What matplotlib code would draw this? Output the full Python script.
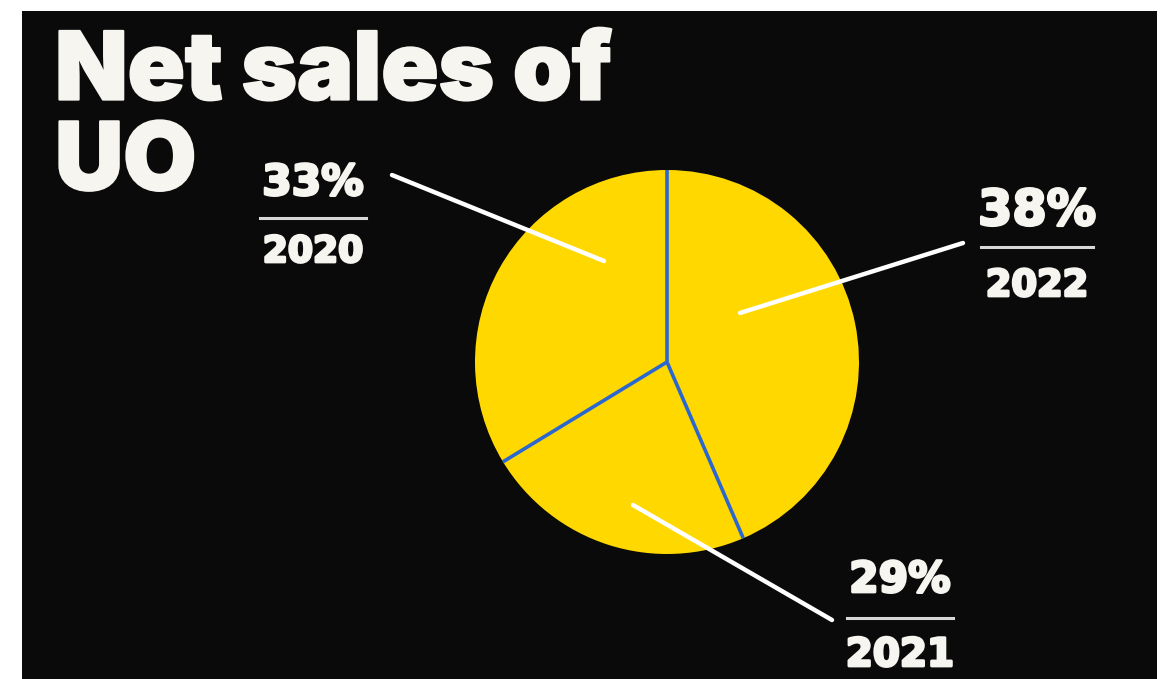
import numpy as np
import matplotlib
matplotlib.use("Agg")
import matplotlib.pyplot as plt
from matplotlib.patches import Rectangle
import matplotlib.patheffects as pe

# Data
years = ["2022", "2021", "2020"]
pct_labels = ["38%", "29%", "33%"]
# slice sizes as drawn in the reference (angular shares)
shares = [43.5, 22.8, 33.7]

title = "Net sales of\nUO"

W, H = 1168, 679
fig = plt.figure(figsize=(W / 100, H / 100), dpi=100, facecolor="white")

# background
bg = fig.add_axes([0, 0, 1, 1], zorder=0)
bg.set_xlim(0, W)
bg.set_ylim(H, 0)
bg.axis("off")
bg.add_patch(Rectangle((22, 11), 1135, 668, facecolor="#0a0a0a", edgecolor="none"))

# pie
cx, cy, r = 667, 362, 192
pax = fig.add_axes([(cx - r) / W, (H - cy - r) / H, 2 * r / W, 2 * r / H], zorder=1)
wedges, _ = pax.pie(shares, startangle=90, counterclock=False, radius=1,
                    colors=["#ffd800"] * 3, wedgeprops=dict(edgecolor="none"))
for w in wedges:
    a = np.deg2rad(w.theta1)
    pax.plot([0, np.cos(a)], [0, np.sin(a)], color="#2b67d0", lw=2.6,
             solid_capstyle="butt", zorder=3)
pax.set_xlim(-1, 1)
pax.set_ylim(-1, 1)
pax.set_aspect("equal")
pax.axis("off")

# overlay for text and leaders
ov = fig.add_axes([0, 0, 1, 1], zorder=2)
ov.patch.set_alpha(0)
ov.set_xlim(0, W)
ov.set_ylim(H, 0)
ov.axis("off")

TITLE_FONT = ["Inter", "DejaVu Sans"]
LABEL_FONT = ["DejaVu Sans"]
TXT = "#f7f5f0"

def heavy(w):
    return [pe.withStroke(linewidth=w, foreground=TXT)]

ov.text(55, 190, title, fontsize=68, fontweight="black", family=TITLE_FONT, color=TXT,
        ha="left", va="baseline", linespacing=1.05, path_effects=heavy(1.5))

leaders = {
    "2022": ((740, 313), (963, 243)),
    "2021": ((633, 505), (832, 620)),
    "2020": ((604, 261), (392, 175)),
}
label_pos = {
    # center x, pct baseline, rule y, year baseline, pct size, year size, rule half width
    "2022": (1037, 225, 247, 296, 35.5, 26.5, 56),
    "2021": (900, 592, 618, 666, 30.5, 28, 53),
    "2020": (313, 195, 218, 262, 30.5, 26, 53),
}
for yr, pct in zip(years, pct_labels):
    (x0, y0), (x1, y1) = leaders[yr]
    ov.plot([x0, x1], [y0, y1], color="white", lw=3.2, solid_capstyle="round")
    lx, py, ry, yy, fs, yfs, hw = label_pos[yr]
    ov.text(lx, py, pct, fontsize=fs, fontweight="bold", family=LABEL_FONT, color=TXT,
            ha="center", va="baseline", path_effects=heavy(2.0))
    ov.plot([lx - hw, lx + hw], [ry, ry], color="#d8d8d8", lw=2.2)
    ov.text(lx, yy, yr, fontsize=yfs, fontweight="bold", family=LABEL_FONT, color=TXT,
            ha="center", va="baseline", path_effects=heavy(2.0))

fig.savefig("out.png", dpi=100, facecolor="white")
